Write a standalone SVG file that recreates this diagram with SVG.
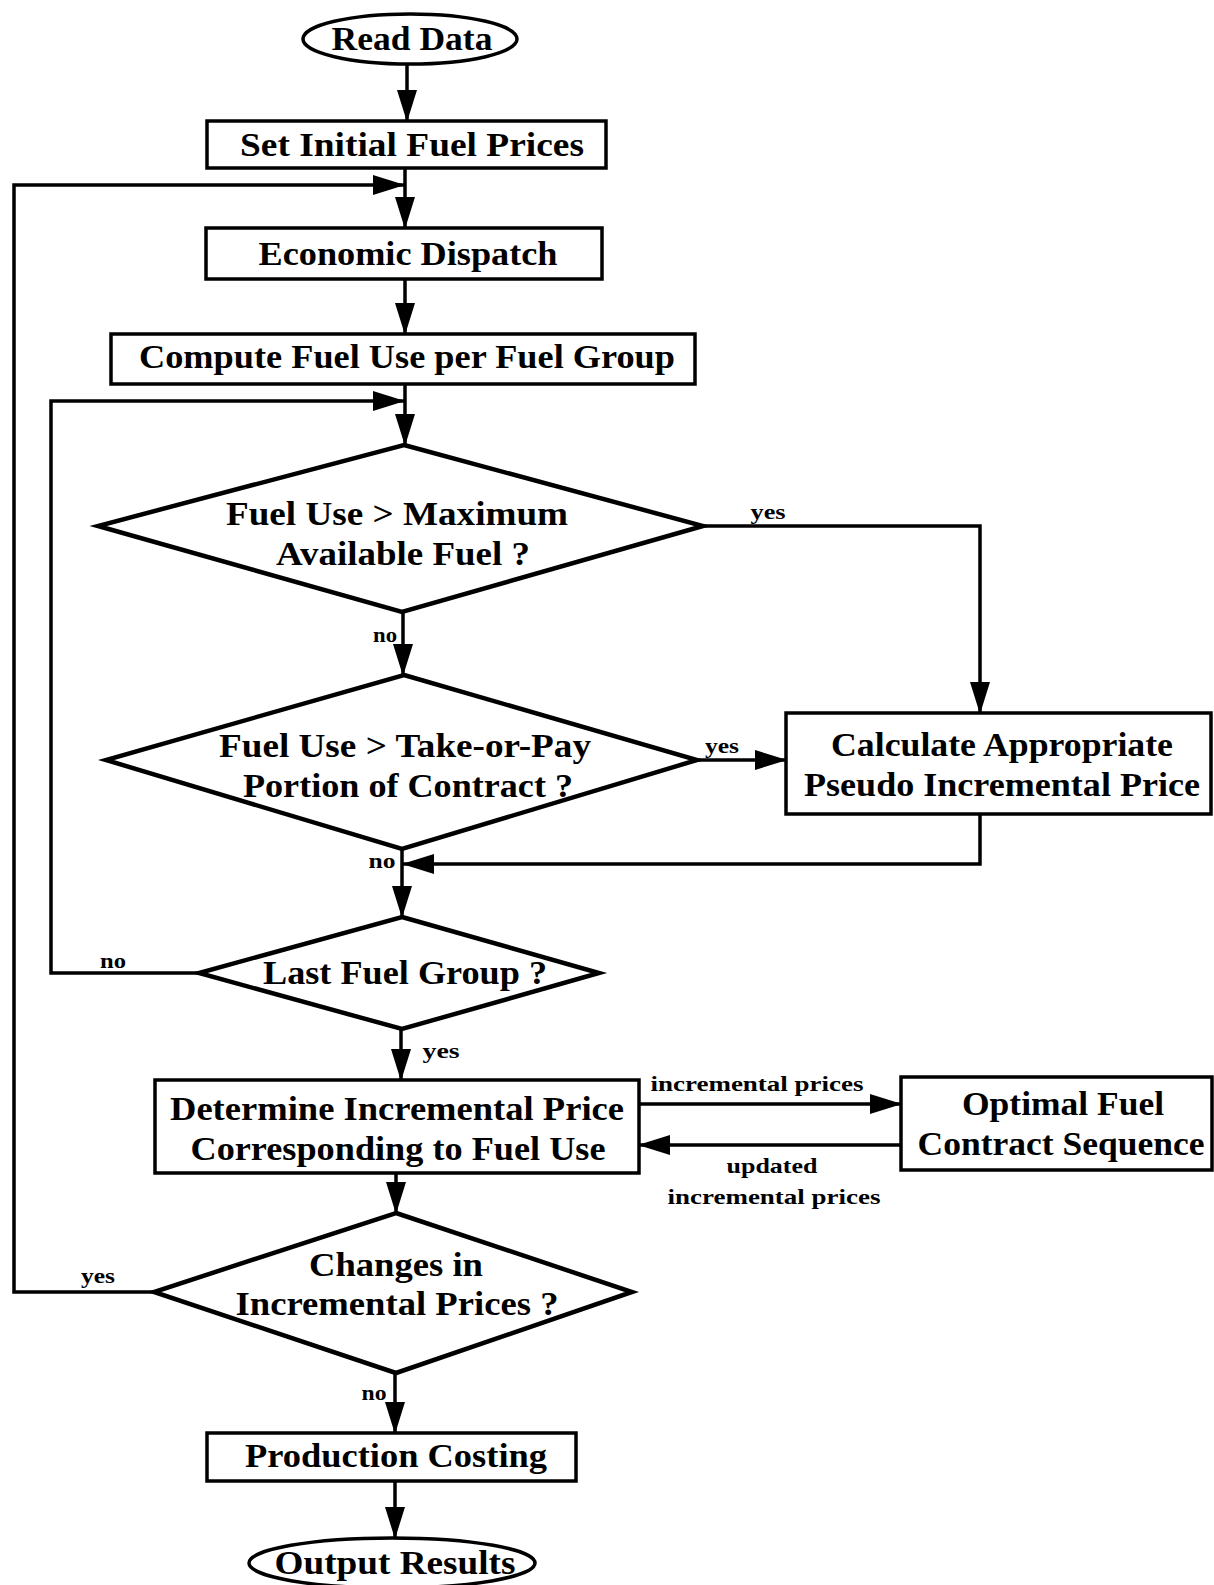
<svg xmlns="http://www.w3.org/2000/svg" width="1214" height="1585" viewBox="0 0 1214 1585">
<style>
.box{fill:#fff;stroke:#000;stroke-width:3.5}
.dia{fill:#fff;stroke:#000;stroke-width:4.5;stroke-linejoin:miter}
.t{font-family:"Liberation Serif","Times New Roman",serif;font-weight:bold;font-size:33px;fill:#000;text-anchor:middle}
.s{font-family:"Liberation Serif","Times New Roman",serif;font-weight:bold;font-size:22px;fill:#000;text-anchor:middle}
.c{fill:none;stroke:#000;stroke-width:3.5}
</style>
<defs>
<marker id="ah" markerUnits="userSpaceOnUse" markerWidth="32" markerHeight="20" refX="31" refY="10" orient="auto">
<path d="M0,0 L32,10 L0,20 Z" fill="#000"/>
</marker>
</defs>
<rect width="1214" height="1585" fill="#fff"/>
<g id="connectors">
<path class="c" d="M407,64 V121" marker-end="url(#ah)"/>
<path class="c" d="M405,168 V228" marker-end="url(#ah)"/>
<path class="c" d="M154,1292 H14 V185 H404" marker-end="url(#ah)"/>
<path class="c" d="M405,279 V334" marker-end="url(#ah)"/>
<path class="c" d="M405,384 V445" marker-end="url(#ah)"/>
<path class="c" d="M199,973 H51 V401 H404" marker-end="url(#ah)"/>
<path class="c" d="M703,526 H980 V713" marker-end="url(#ah)"/>
<path class="c" d="M403,612 V675" marker-end="url(#ah)"/>
<path class="c" d="M697,760 H786" marker-end="url(#ah)"/>
<path class="c" d="M980,814 V864 H403" marker-end="url(#ah)"/>
<path class="c" d="M402,849 V917" marker-end="url(#ah)"/>
<path class="c" d="M401,1029 V1080" marker-end="url(#ah)"/>
<path class="c" d="M639,1104 H901" marker-end="url(#ah)"/>
<path class="c" d="M901,1145 H639" marker-end="url(#ah)"/>
<path class="c" d="M396,1173 V1213" marker-end="url(#ah)"/>
<path class="c" d="M395,1373 V1433" marker-end="url(#ah)"/>
<path class="c" d="M395,1481 V1538" marker-end="url(#ah)"/>
<text class="s" x="768" y="519" textLength="35" lengthAdjust="spacingAndGlyphs">yes</text>
<text class="s" x="385" y="642" textLength="24" lengthAdjust="spacingAndGlyphs">no</text>
<text class="s" x="722" y="753" textLength="34" lengthAdjust="spacingAndGlyphs">yes</text>
<text class="s" x="382" y="868" textLength="27" lengthAdjust="spacingAndGlyphs">no</text>
<text class="s" x="113" y="968" textLength="26" lengthAdjust="spacingAndGlyphs">no</text>
<text class="s" x="441" y="1058" textLength="37" lengthAdjust="spacingAndGlyphs">yes</text>
<text class="s" x="757" y="1091" textLength="213" lengthAdjust="spacingAndGlyphs">incremental prices</text>
<text class="s" x="772" y="1173" textLength="91" lengthAdjust="spacingAndGlyphs">updated</text>
<text class="s" x="774" y="1204" textLength="213" lengthAdjust="spacingAndGlyphs">incremental prices</text>
<text class="s" x="98" y="1283" textLength="34" lengthAdjust="spacingAndGlyphs">yes</text>
<text class="s" x="374" y="1400" textLength="25" lengthAdjust="spacingAndGlyphs">no</text>
</g>
<g id="read-data">
<ellipse class="box" cx="410" cy="39" rx="107" ry="25"/>
<text class="t" x="412" y="50" textLength="161" lengthAdjust="spacingAndGlyphs">Read Data</text>
</g>
<g id="set-initial">
<rect class="box" x="207" y="121" width="399" height="47"/>
<text class="t" x="412" y="156" textLength="344" lengthAdjust="spacingAndGlyphs">Set Initial Fuel Prices</text>
</g>
<g id="economic-dispatch">
<rect class="box" x="206" y="228" width="396" height="51"/>
<text class="t" x="408" y="265" textLength="299" lengthAdjust="spacingAndGlyphs">Economic Dispatch</text>
</g>
<g id="compute-fuel">
<rect class="box" x="111" y="334" width="584" height="50"/>
<text class="t" x="407" y="368" textLength="536" lengthAdjust="spacingAndGlyphs">Compute Fuel Use per Fuel Group</text>
</g>
<g id="max-fuel">
<polygon class="dia" points="404,445 703,526 402,612 98,526"/>
<text class="t" x="397" y="525" textLength="342" lengthAdjust="spacingAndGlyphs">Fuel Use &gt; Maximum</text>
<text class="t" x="403" y="565" textLength="254" lengthAdjust="spacingAndGlyphs">Available Fuel ?</text>
</g>
<g id="take-or-pay">
<polygon class="dia" points="404,675 697,760 402,849 106,760"/>
<text class="t" x="405" y="757" textLength="372" lengthAdjust="spacingAndGlyphs">Fuel Use &gt; Take-or-Pay</text>
<text class="t" x="408" y="797" textLength="330" lengthAdjust="spacingAndGlyphs">Portion of Contract ?</text>
</g>
<g id="calculate-pseudo">
<rect class="box" x="786" y="713" width="425" height="101"/>
<text class="t" x="1002" y="756" textLength="342" lengthAdjust="spacingAndGlyphs">Calculate Appropriate</text>
<text class="t" x="1002" y="796" textLength="396" lengthAdjust="spacingAndGlyphs">Pseudo Incremental Price</text>
</g>
<g id="last-fuel-group">
<polygon class="dia" points="402,917 599,973 402,1029 199,973"/>
<text class="t" x="405" y="984" textLength="284" lengthAdjust="spacingAndGlyphs">Last Fuel Group ?</text>
</g>
<g id="determine-price">
<rect class="box" x="155" y="1080" width="484" height="93"/>
<text class="t" x="397" y="1120" textLength="454" lengthAdjust="spacingAndGlyphs">Determine Incremental Price</text>
<text class="t" x="398" y="1160" textLength="415" lengthAdjust="spacingAndGlyphs">Corresponding to Fuel Use</text>
</g>
<g id="optimal-sequence">
<rect class="box" x="901" y="1077" width="311" height="93"/>
<text class="t" x="1063" y="1115" textLength="202" lengthAdjust="spacingAndGlyphs">Optimal Fuel</text>
<text class="t" x="1061" y="1155" textLength="287" lengthAdjust="spacingAndGlyphs">Contract Sequence</text>
</g>
<g id="changes-prices">
<polygon class="dia" points="396,1213 632,1292 396,1373 154,1292"/>
<text class="t" x="396" y="1276" textLength="174" lengthAdjust="spacingAndGlyphs">Changes in</text>
<text class="t" x="397" y="1315" textLength="323" lengthAdjust="spacingAndGlyphs">Incremental Prices ?</text>
</g>
<g id="production-costing">
<rect class="box" x="207" y="1433" width="369" height="48"/>
<text class="t" x="396" y="1467" textLength="302" lengthAdjust="spacingAndGlyphs">Production Costing</text>
</g>
<g id="output-results">
<ellipse class="box" cx="392" cy="1563" rx="143" ry="25"/>
<text class="t" x="395" y="1574" textLength="241" lengthAdjust="spacingAndGlyphs">Output Results</text>
</g>
</svg>
